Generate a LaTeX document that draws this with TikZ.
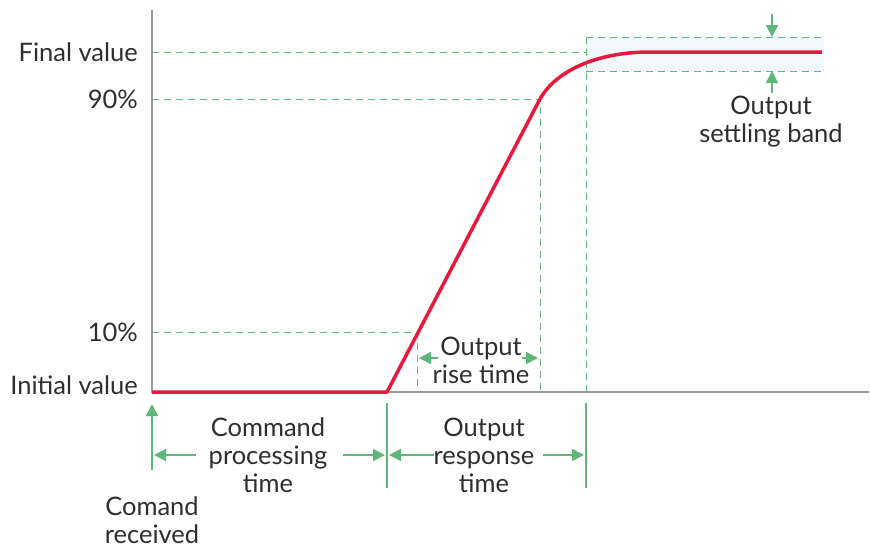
\documentclass[tikz,border=0pt]{standalone}
\usepackage{fontspec}
\setmainfont{Lato}
\usetikzlibrary{arrows.meta}
\definecolor{curvered}{HTML}{E8193C}
\definecolor{guidegreen}{HTML}{5DB779}
\definecolor{axisgray}{HTML}{9A9A9A}
\definecolor{bandblue}{HTML}{F1F7FC}
\definecolor{txt}{HTML}{2E2E2E}
\begin{document}
\begin{tikzpicture}[x=1pt,y=-1pt,
  lbl/.style={font=\fontsize{25.5}{28}\selectfont, text=txt, inner sep=0pt, align=center},
  ylbl/.style={lbl, anchor=east},
  guide/.style={draw=guidegreen, dash pattern=on 7pt off 5pt, line width=0.9pt},
  solidg/.style={draw=guidegreen, line width=1.6pt},
  garrow/.style={draw=guidegreen, line width=1.6pt, -{Triangle[length=12pt,width=12pt]}},
  axis/.style={draw=axisgray, line width=1.5pt},
  resp/.style={draw=curvered, line width=3.5pt, line join=round}]
\useasboundingbox (0,0) rectangle (871,550);
% coordinates
\coordinate (o) at (152,392);
\coordinate (ytop) at (152,10);
\coordinate (xend) at (869,392);
\coordinate (start) at (387,392);
\coordinate (p10) at (417,332);
\coordinate (p90) at (540,99);
\coordinate (settle) at (650,52);
\coordinate (fend) at (822,52);
% band
\fill[bandblue] (586,37) rectangle (824,71);
\draw[guide] (586,37) -- (824,37);
\draw[guide] (586,71) -- (824,71);
% guide lines
\draw[guide] (152,52) -- (586,52);
\draw[guide] (152,99) -- (p90) -- (540,392);
\draw[guide] (152,332) -- (p10) -- (417,392);
\draw[guide] (586,37) -- (586,392);
% axes
\draw[axis] (ytop) -- (o) -- (xend);
% response curve
\draw[resp] (o) -- (start) -- (p90) .. controls (555,72) and (595,52) .. (settle) -- (fend);
% y labels
\node[ylbl] (lfinal) at (138,52) {Final value};
\node[ylbl] (l90) at (138,99) {90\%};
\node[ylbl] (l10) at (138,332) {10\%};
\node[ylbl] (linit) at (138,385) {Initial value};
% settling band arrows
\coordinate (sbt0) at (772,14);
\coordinate (sbt1) at (772,37);
\coordinate (sbb0) at (772,93);
\coordinate (sbb1) at (772,71);
\draw[garrow] (sbt0) -- (sbt1);
\draw[garrow] (sbb0) -- (sbb1);
\node[lbl] (settling) at (771,122) {Output\\settling band};
% rise time
\node[lbl] (rise) at (481,360) {Output\\rise time};
\coordinate (r0) at (438,358);
\coordinate (r1) at (419,358);
\coordinate (r2) at (522,358);
\coordinate (r3) at (538,358);
\draw[garrow] (r0) -- (r1);
\draw[garrow] (r2) -- (r3);
% bottom markers
\coordinate (cr0) at (152,470);
\coordinate (cr1) at (152,404);
\draw[garrow] (cr0) -- (cr1);
\coordinate (m1a) at (387,403);
\coordinate (m1b) at (387,488);
\coordinate (m2a) at (586,403);
\coordinate (m2b) at (586,488);
\draw[solidg] (m1a) -- (m1b);
\draw[solidg] (m2a) -- (m2b);
\node[lbl] (cmdproc) at (268,455) {Command\\processing\\time};
\draw[garrow] (196,455) -- (154,455);
\draw[garrow] (343,455) -- (385,455);
\node[lbl] (outresp) at (484,455) {Output\\response\\time};
\draw[garrow] (434,455) -- (389,455);
\draw[garrow] (543,455) -- (584,455);
\node[lbl] (received) at (152,520) {Comand\\received};
\end{tikzpicture}
\end{document}
